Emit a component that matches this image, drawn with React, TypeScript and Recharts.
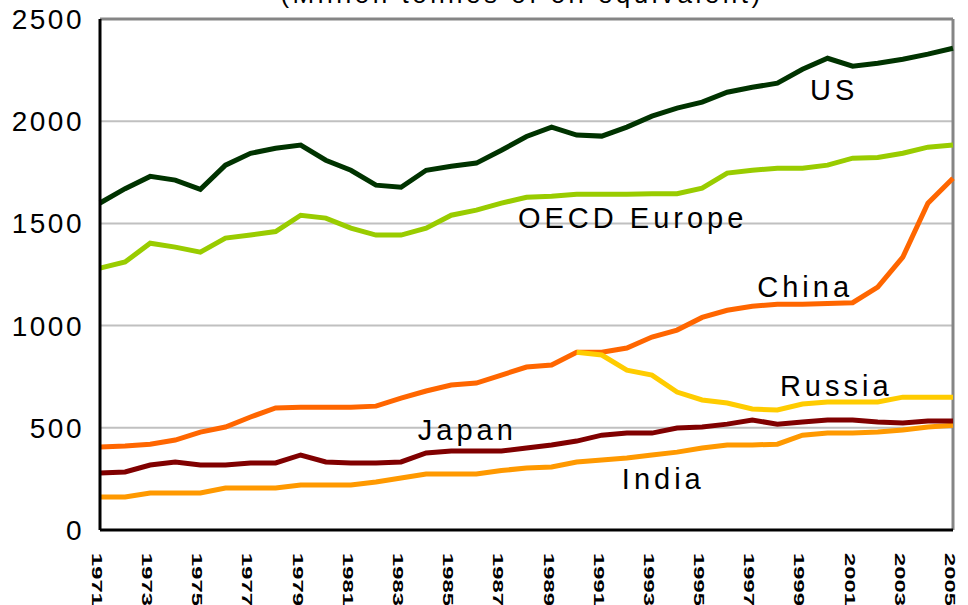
import React from "react";
import { LineChart, Line, XAxis, YAxis, CartesianGrid, ReferenceLine, ReferenceDot } from "recharts";

const years = [1971, 1972, 1973, 1974, 1975, 1976, 1977, 1978, 1979, 1980, 1981, 1982, 1983, 1984, 1985, 1986, 1987, 1988, 1989, 1990, 1991, 1992, 1993, 1994, 1995, 1996, 1997, 1998, 1999, 2000, 2001, 2002, 2003, 2004, 2005];

const us = [1600, 1670, 1730, 1712, 1667, 1785, 1843, 1868, 1883, 1809, 1760, 1687, 1677, 1760, 1780, 1795, 1858, 1925, 1971, 1932, 1927, 1971, 2025, 2064, 2093, 2142, 2166, 2186, 2254, 2308, 2269, 2284, 2303, 2328, 2357];
const oecdEurope = [1281, 1311, 1403, 1384, 1359, 1428, 1443, 1460, 1540, 1526, 1477, 1443, 1443, 1477, 1540, 1565, 1599, 1628, 1633, 1643, 1643, 1643, 1645, 1645, 1672, 1746, 1760, 1770, 1770, 1785, 1819, 1822, 1843, 1873, 1883];
const china = [406, 411, 420, 440, 479, 504, 553, 597, 601, 601, 601, 606, 645, 680, 709, 719, 758, 797, 807, 870, 870, 890, 944, 978, 1040, 1075, 1095, 1105, 1105, 1108, 1112, 1188, 1335, 1599, 1721];
const russia = [null, null, null, null, null, null, null, null, null, null, null, null, null, null, null, null, null, null, null, 870, 856, 782, 758, 675, 636, 621, 592, 587, 616, 626, 626, 626, 650, 650, 650];
const japan = [279, 284, 318, 333, 318, 318, 328, 328, 367, 333, 328, 328, 333, 377, 386, 386, 386, 401, 416, 435, 464, 474, 474, 499, 504, 518, 538, 518, 528, 538, 538, 528, 523, 533, 533];
const india = [161, 161, 181, 181, 181, 205, 205, 205, 220, 220, 220, 235, 254, 274, 274, 274, 291, 303, 308, 333, 342, 352, 367, 381, 401, 416, 416, 420, 464, 474, 474, 479, 489, 504, 513];

const xTicks = [1971, 1973, 1975, 1977, 1979, 1981, 1983, 1985, 1987, 1989, 1991, 1993, 1995, 1997, 1999, 2001, 2003, 2005];
const yTicks = [0, 500, 1000, 1500, 2000, 2500];

const seriesLabels = [
  { text: "US", year: 1999.3, value: 2103 },
  { text: "OECD Europe", year: 1987.66, value: 1477 },
  { text: "China", year: 1997.2, value: 1139 },
  { text: "Russia", year: 1998.1, value: 655 },
  { text: "Japan", year: 1983.67, value: 440 },
  { text: "India", year: 1991.8, value: 200 },
];

const titleText = "(Million tonnes of oil equivalent)";

const data = years.map((y, i) => ({
  year: y,
  us: us[i],
  oecdEurope: oecdEurope[i],
  china: china[i],
  russia: russia[i],
  japan: japan[i],
  india: india[i],
}));

const FONT = "'Liberation Sans', Arial, sans-serif";

const XTick = (props: any) => {
  const { x, y, payload } = props;
  return (
    <g transform={`translate(${x - 3},${y}) rotate(90)`}>
      <text x={0} y={0} dy="0.36em" textAnchor="start" fontSize={14} fontWeight="bold" fontFamily={FONT} fill="#000" transform="scale(1.7,1)">
        {payload.value}
      </text>
    </g>
  );
};

const YTick = (props: any) => {
  const { x, y, payload } = props;
  return (
    <text x={x} y={y} dy="0.36em" textAnchor="end" fontSize={28} letterSpacing={2.5} fontFamily={FONT} fill="#000">
      {payload.value}
    </text>
  );
};

const makeLabelShape = (text: string) => (props: any) => (
  <text x={props.cx} y={props.cy} fontSize={29} letterSpacing={4} fontFamily={FONT} fill="#000">
    {text}
  </text>
);

export default function App() {
  return (
    <div style={{ position: "absolute", left: 0, top: 0, width: 968, height: 605, background: "#fff" }}>
      <LineChart width={968} height={605} data={data} margin={{ top: 19, right: 15, bottom: 0, left: 0 }}>
        <CartesianGrid vertical={false} stroke="#c0c0c0" strokeWidth={2} />
        <XAxis
          dataKey="year"
          type="number"
          domain={[1971, 2005]}
          ticks={xTicks}
          interval={0}
          height={75}
          tickSize={0}
          tickMargin={23}
          tick={<XTick />}
          axisLine={{ stroke: "#000", strokeWidth: 3 }}
          tickLine={false}
        />
        <YAxis
          domain={[0, 2500]}
          ticks={yTicks}
          width={100}
          tickSize={0}
          tickMargin={16}
          tick={<YTick />}
          axisLine={{ stroke: "#000", strokeWidth: 3 }}
          tickLine={false}
        />
        <ReferenceLine y={2500} stroke="#858585" strokeWidth={3} />
        <ReferenceLine x={2005} stroke="#858585" strokeWidth={3} />
        <Line type="linear" dataKey="india" stroke="#ff9900" strokeWidth={5} dot={false} isAnimationActive={false} />
        <Line type="linear" dataKey="japan" stroke="#800000" strokeWidth={5} dot={false} isAnimationActive={false} />
        <Line type="linear" dataKey="china" stroke="#ff6600" strokeWidth={5} dot={false} isAnimationActive={false} />
        <Line type="linear" dataKey="russia" stroke="#ffcc00" strokeWidth={5} dot={false} isAnimationActive={false} />
        <Line type="linear" dataKey="oecdEurope" stroke="#99cc00" strokeWidth={5} dot={false} isAnimationActive={false} />
        <Line type="linear" dataKey="us" stroke="#003300" strokeWidth={5} dot={false} isAnimationActive={false} />
        {seriesLabels.map((l) => (
          <ReferenceDot key={l.text} x={l.year} y={l.value} r={0} shape={makeLabelShape(l.text)} />
        ))}
      </LineChart>
      <svg width={968} height={605} style={{ position: "absolute", left: 0, top: 0, pointerEvents: "none" }}>
        <text x={522} y={3} textAnchor="middle" fontSize={26} letterSpacing={3.5} fontFamily={FONT} fill="#000">
          {titleText}
        </text>
      </svg>
    </div>
  );
}
